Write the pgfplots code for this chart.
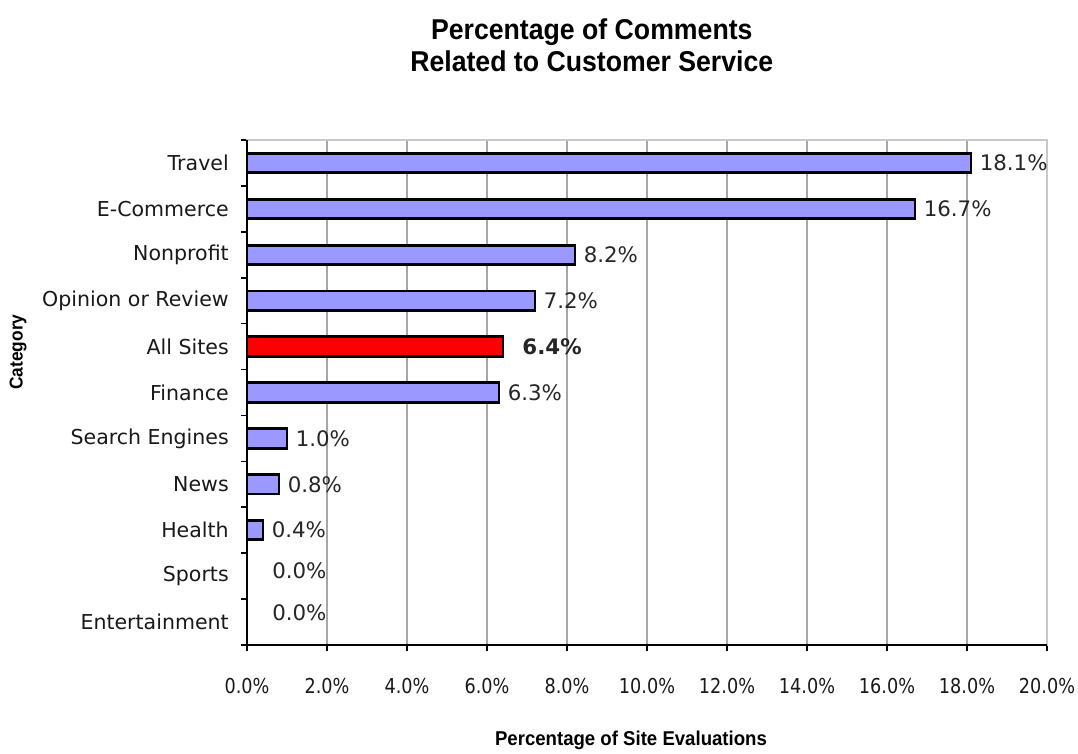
\documentclass[border=0pt]{standalone}
\usepackage{fontspec}
\setmainfont{DejaVu Sans}
\newfontfamily\tickfont[FakeStretch=0.86]{DejaVu Sans}
\newfontfamily\arialfont[FakeStretch=0.93]{Liberation Sans}
\usepackage{pgfplots}
\pgfplotsset{compat=1.18}
\definecolor{barblue}{HTML}{9999FF}
\definecolor{gridgray}{HTML}{A6A6A6}
\definecolor{boxgray}{HTML}{C8C8C8}
\begin{document}
\begin{tikzpicture}
\begin{axis}[
  scale only axis, width=600pt, height=378.75pt,
  xmin=0, xmax=20, ymin=-0.5, ymax=10.5,
  xbar, bar width=14.5pt, bar shift=0pt,
  clip=false,
  axis line style={draw=boxgray, line width=1.5pt},
  xtick={0,2,...,20}, xtick pos=bottom,
  xmajorgrids, grid style={gridgray, line width=1pt},
  ytick={0,...,10},
  yticklabels={Entertainment,Sports,Health,News,Search Engines,Finance,All Sites,Opinion or Review,Nonprofit,E-Commerce,Travel},
  ytick pos=left,
  major y tick style={draw=none},
  minor ytick={-0.5,0.5,...,10.5},
  minor y tick style={black, line width=1.2pt},
  minor tick length=4.5pt,
  major tick length=4.5pt,
  tick align=outside,
  x tick style={black, line width=1.2pt},
  /pgf/number format/assume math mode=true,
  xticklabel={\pgfmathprintnumber[fixed,fixed zerofill,precision=1]{\tick}\%},
  xticklabel style={font=\tickfont\fontsize{15.4}{18}\selectfont, text=black!90, inner sep=0pt, yshift=-20pt},
  yticklabel style={font=\fontsize{15.4}{18}\selectfont, text=black!90, inner sep=0pt, xshift=-9pt},
  title={Percentage of Comments\\Related to Customer Service},
  title style={at={(axis description cs:0.431,1.172)}, anchor=center, align=center, font=\arialfont\bfseries\fontsize{21.5}{24.5}\selectfont},
  xlabel={Percentage of Site Evaluations},
  xlabel style={at={(axis description cs:0.48,-0.188)}, anchor=center, font=\arialfont\bfseries\fontsize{15}{17}\selectfont},
  ylabel={Category},
  ylabel style={at={(axis description cs:-0.286,0.58)}, anchor=center, font=\arialfont\bfseries\fontsize{14}{17}\selectfont},
  point meta=x,
  nodes near coords={\pgfmathprintnumber[fixed,fixed zerofill,precision=1]{\pgfplotspointmeta}\%},
  nodes near coords align={horizontal},
  every node near coord/.append style={anchor=west, inner sep=0pt, font=\fontsize{16}{18}\selectfont, text=black!85},
]
\addplot[fill=barblue, draw=black, line width=2.2pt,
  every node near coord/.append style={xshift=5.5pt}]
  coordinates {(18.1,10) (16.7,9) (8.2,8) (7.2,7) (6.3,5) (1.0,4) (0.8,3) (0.4,2)};
\addplot[fill=red, draw=black, line width=2.2pt,
  every node near coord/.append style={xshift=13.5pt, font=\bfseries\fontsize{16}{18}\selectfont}]
  coordinates {(6.4,6)};
\addplot[draw=none, fill=none,
  every node near coord/.append style={xshift=18.75pt, yshift=4pt}]
  coordinates {(0,1)};
\addplot[draw=none, fill=none,
  every node near coord/.append style={xshift=18.75pt, yshift=7pt}]
  coordinates {(0,0)};
\draw[black, line width=1.5pt] (rel axis cs:0,1) -- (rel axis cs:0,0) -- (rel axis cs:1,0);
\path (rel axis cs:-0.30875,-0.2119) rectangle (rel axis cs:1.03875,1.2772);
\end{axis}
\end{tikzpicture}
\end{document}
